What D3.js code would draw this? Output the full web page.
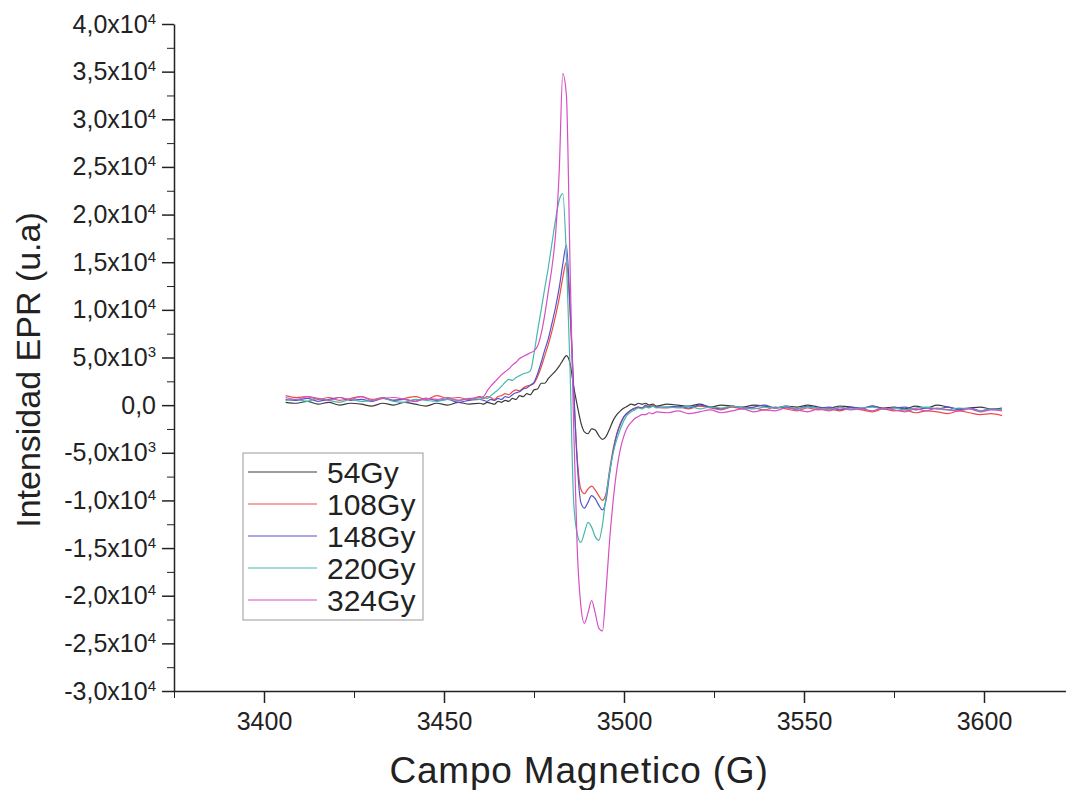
<!DOCTYPE html>
<html>
<head>
<meta charset="utf-8">
<script src="https://cdn.jsdelivr.net/npm/d3@7"></script>
<style>
body { margin: 0; background: #fff; }
svg { display: block; }
</style>
</head>
<body>
<div id="chart"></div>
<script>
// Magnetic field grid (G): coarse on the baselines, 1 G steps across the signal.
var fieldLeft = d3.range(3406, 3461, 3);
var fieldMid = d3.range(3461, 3510, 1);
var fieldRight = d3.range(3512, 3606, 3);
var fields = fieldLeft.concat(fieldMid, fieldRight);

// EPR intensity, in thousands (x10^3).
var gy54 = [0.3,0.2,0.4,0.1,0.3,0.0,0.2,0.1,-0.1,0.2,0.0,0.3,0.1,-0.1,0.2,0.0,0.3,0.1,0.2,
    0.1,0.3,0.2,0.1,0.4, 0.3,0.5,0.4,0.7,0.6, 1.0,0.9,1.2,1.1,1.6, 1.7,2.3,2.3,2.8,3.2,
    3.6,4.1,4.7,5.2,4.4, 2.0,0.0,-1.8,-2.8,-3.0, -2.5,-2.6,-3.2,-3.6,-3.3, -2.5,-1.6,-1.0,-0.6,-0.3,
    -0.1,0.1,0.0,0.2,0.1, 0.2,0.0,0.1,-0.1,
    0.1,0.0,-0.1,0.1,-0.2,0.0,-0.1,-0.2,0.0,-0.1, -0.3,-0.1,-0.2,0.0,-0.2,-0.3,-0.1,-0.2,-0.4,-0.1,
    -0.3,-0.2,-0.4,-0.1,-0.3,0.0,-0.2,-0.4,-0.3,-0.2, -0.4,-0.3];
var gy108 = [1.0,0.8,0.9,0.6,0.8,0.5,0.7,0.9,0.6,0.8,0.5,0.7,0.9,0.6,1.0,0.7,0.8,0.6,0.9,
    0.7,0.9,0.8,0.6,0.9, 1.0,1.2,1.1,1.4,1.6, 1.5,1.8,2.0,2.1,2.3, 3.0,4.0,5.2,6.4,7.8,
    9.4,11.2,13.4,15.0,10.0, 1.5,-5.5,-8.8,-9.3,-8.8, -8.5,-8.9,-9.5,-10.0,-9.3, -6.8,-4.6,-3.0,-1.9,-1.2,
    -0.8,-0.5,-0.4,-0.2,-0.3, -0.1,-0.2,0.0,-0.2,
    -0.3,-0.2,-0.4,-0.1,-0.3,-0.5,-0.2,-0.4,-0.3,-0.5, -0.2,-0.4,-0.6,-0.3,-0.5,-0.4,-0.6,-0.3,-0.5,-0.7,
    -0.4,-0.6,-0.5,-0.8,-0.6,-0.7,-0.9,-0.6,-0.8,-1.0, -0.9,-1.1];
var gy148 = [0.6,0.5,0.7,0.4,0.6,0.8,0.5,0.6,0.4,0.7,0.5,0.6,0.4,0.7,0.5,0.6,0.3,0.5,0.6,
    0.5,0.4,0.6,0.5,0.7, 0.6,0.9,0.8,1.1,1.3, 1.4,1.7,1.8,2.1,2.4, 3.3,4.5,5.8,7.0,8.6,
    10.3,12.3,14.8,16.8,10.5, 2.0,-6.0,-10.2,-10.8,-10.2, -9.5,-9.8,-10.5,-11.0,-10.0, -7.2,-4.8,-3.1,-2.0,-1.2,
    -0.8,-0.5,-0.3,-0.2,-0.3, 0.0,-0.2,-0.1,-0.2,
    -0.2,-0.1,-0.3,0.0,-0.2,-0.4,-0.1,-0.3,-0.2,0.0, -0.3,-0.2,-0.4,-0.1,-0.3,-0.2,-0.5,-0.2,-0.3,-0.1,
    -0.4,-0.3,-0.2,-0.5,-0.3,-0.4,-0.2,-0.5,-0.3,-0.6, -0.4,-0.5];
var gy220 = [0.5,0.6,0.4,0.7,0.5,0.3,0.6,0.4,0.5,0.7,0.4,0.3,0.6,0.5,0.4,0.6,0.5,0.7,0.6,
    0.8,0.7,1.0,1.3,1.6, 2.0,2.4,2.7,2.6,2.9, 3.1,3.3,3.4,3.6,5.4, 7.8,10.0,12.3,14.5,17.0,
    19.5,21.5,22.2,15.5,4.0, -10.0,-13.5,-14.4,-13.4,-12.3, -12.8,-13.8,-14.2,-12.6,-9.6, -7.0,-5.0,-3.6,-2.5,-1.6,
    -1.0,-0.7,-0.5,-0.3,-0.4, -0.2,-0.3,-0.1,-0.3,
    -0.2,-0.3,-0.1,-0.4,-0.2,-0.3,-0.1,-0.3,-0.4,-0.2, -0.3,-0.1,-0.4,-0.2,-0.3,-0.5,-0.2,-0.4,-0.3,-0.2,
    -0.4,-0.3,-0.5,-0.3,-0.2,-0.4,-0.5,-0.3,-0.4,-0.6, -0.4,-0.5];
var gy324 = [0.8,0.6,0.9,0.7,0.5,0.8,0.6,0.9,0.5,0.7,0.8,0.6,0.4,0.7,0.6,0.8,0.5,0.7,0.8,
    0.9,1.5,2.0,2.4,2.8, 3.2,3.5,3.8,4.2,4.5, 4.9,5.1,5.3,5.5,5.7, 6.2,7.5,9.5,12.0,14.5,
    18.0,24.5,34.8,32.5,15.0, -2.0,-15.0,-21.0,-22.9,-21.8, -20.5,-21.8,-23.4,-23.7,-19.5, -14.2,-10.0,-6.8,-4.6,-3.2,
    -2.3,-1.8,-1.4,-1.2,-1.0, -1.0,-0.8,-0.9,-0.7,
    -0.8,-0.6,-0.9,-0.7,-0.5,-0.8,-0.6,-0.4,-0.7,-0.5, -0.6,-0.3,-0.5,-0.7,-0.4,-0.6,-0.3,-0.5,-0.4,-0.6,
    -0.3,-0.5,-0.7,-0.4,-0.6,-0.3,-0.5,-0.6,-0.4,-0.7, -0.5,-0.6];

var seriesNames = ["54Gy", "108Gy", "148Gy", "220Gy", "324Gy"];
var seriesValues = [gy54, gy108, gy148, gy220, gy324];
var seriesColors = ["#3a3a3a", "#ec4c47", "#5552cc", "#48b8ac", "#d64fc4"];

var xTickValues = [3400, 3450, 3500, 3550, 3600];
var xMinorTicks = [3375, 3425, 3475, 3525, 3575];
var yTickValues = [-30, -25, -20, -15, -10, -5, 0, 5, 10, 15, 20, 25, 30, 35, 40];
var yTickMantissa = ["-3,0","-2,5","-2,0","-1,5","-1,0","-5,0","0,0","5,0","1,0","1,5","2,0","2,5","3,0","3,5","4,0"];
var yTickExp = ["4","4","4","4","4","3","","3","4","4","4","4","4","4","4"];

var font = "'Liberation Sans', Arial, sans-serif";
var W = 1066, H = 790;
var x0 = 174, yTop = 24, yBottom = 691;

var x = d3.scaleLinear().domain([3375, 3625]).range([x0, x0 + 900]);
var y = d3.scaleLinear().domain([-30, 40]).range([yBottom, yTop]);

var svg = d3.select("#chart").append("svg")
    .attr("width", W)
    .attr("height", H)
    .style("font-family", font);

// curves
var line = d3.line()
    .x(function (d, i) { return x(fields[i]); })
    .y(function (d) { return y(d); })
    .curve(d3.curveMonotoneX);

seriesValues.forEach(function (vals, k) {
    svg.append("path")
        .datum(vals)
        .attr("fill", "none")
        .attr("stroke", seriesColors[k])
        .attr("stroke-width", 1.2)
        .attr("stroke-linejoin", "round")
        .attr("d", line);
});

// x axis
var xAxisG = svg.append("g")
    .attr("transform", "translate(0," + yBottom + ")")
    .style("color", "#222")
    .call(d3.axisBottom(x).tickValues(xTickValues).tickSize(12).tickSizeOuter(0).tickPadding(9)
        .tickFormat(d3.format("d")));
svg.append("g")
    .attr("transform", "translate(0," + yBottom + ")")
    .style("color", "#222")
    .call(d3.axisBottom(x).tickValues(xMinorTicks).tickSize(7).tickFormat(""))
    .select(".domain").remove();

// y axis
var yAxisG = svg.append("g")
    .attr("transform", "translate(" + x0 + ",0)")
    .style("color", "#222")
    .call(d3.axisLeft(y).tickValues(yTickValues).tickSize(12).tickSizeOuter(0).tickPadding(6)
        .tickFormat(function (d, i) { return yTickExp[i] ? yTickMantissa[i] + "x10" : yTickMantissa[i]; }));
svg.append("g")
    .attr("transform", "translate(" + x0 + ",0)")
    .style("color", "#222")
    .call(d3.axisLeft(y).tickValues(d3.range(-27.5, 40, 5)).tickSize(7).tickFormat(""))
    .select(".domain").remove();

[xAxisG, yAxisG].forEach(function (g) {
    g.attr("font-family", font).attr("font-size", 25);
    g.selectAll("path, line").attr("stroke-width", 1.5);
});

yAxisG.selectAll(".tick text").each(function (d, i) {
    if (yTickExp[i]) {
        d3.select(this).append("tspan")
            .attr("dy", "-0.6em")
            .attr("font-size", "0.6em")
            .text(yTickExp[i]);
    }
});

// axis titles
svg.append("text")
    .attr("x", 579)
    .attr("y", 783)
    .attr("text-anchor", "middle")
    .attr("font-size", 37)
    .attr("letter-spacing", 0.8)
    .attr("fill", "#222")
    .text("Campo Magnetico (G)");

svg.append("text")
    .attr("transform", "translate(40,370) rotate(-90)")
    .attr("text-anchor", "middle")
    .attr("font-size", 34)
    .attr("fill", "#222")
    .text("Intensidad EPR (u.a)");

// legend
var legend = svg.append("g").attr("transform", "translate(243,453)");
legend.append("rect")
    .attr("width", 180)
    .attr("height", 167)
    .attr("fill", "#fff")
    .attr("stroke", "#999")
    .attr("stroke-width", 1);
seriesNames.forEach(function (name, k) {
    var ry = 19 + k * 32;
    legend.append("line")
        .attr("x1", 5).attr("x2", 74)
        .attr("y1", ry).attr("y2", ry)
        .attr("stroke", seriesColors[k])
        .attr("stroke-width", 1.2);
    legend.append("text")
        .attr("x", 84)
        .attr("y", ry)
        .attr("dy", "0.35em")
        .attr("font-size", 30)
        .attr("fill", "#222")
        .text(name);
});
</script>
</body>
</html>
